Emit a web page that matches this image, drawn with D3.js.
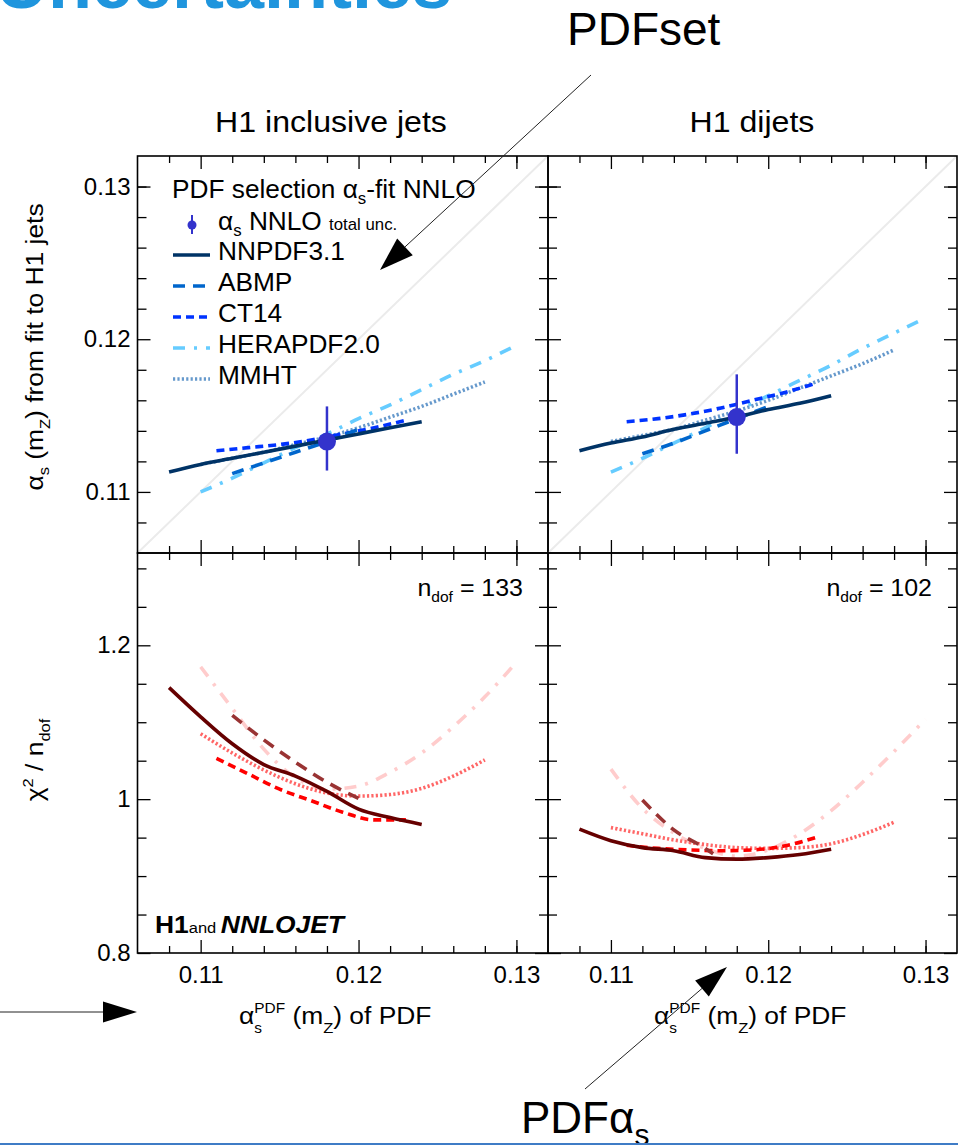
<!DOCTYPE html>
<html>
<head>
<meta charset="utf-8">
<title>alpha_s fits vs PDF alpha_s</title>
<script src="https://d3js.org/d3.v7.min.js"></script>
<style>
  body { margin: 0; background: #fff; }
  text { font-family: "Liberation Sans", Arial, Helvetica, sans-serif; fill: #000; }
  .tick text { font-size: 24px; }
  .tick line { stroke: #000; stroke-width: 1.3px; }
</style>
</head>
<body>
<svg id="chart" width="958" height="1147"></svg>
<script>
// ---- data ----
var pdfNames = ["NNPDF3.1", "ABMP", "CT14", "HERAPDF2.0", "MMHT"];

// alpha_s(mZ) of the PDF sets used
var alphaNNPDF = [0.108, 0.110, 0.112, 0.114, 0.116, 0.118, 0.120, 0.122, 0.124];
var alphaABMP  = [0.112, 0.114, 0.116, 0.118, 0.120];
var alphaABMPdijetChi = [0.112, 0.114, 0.116, 0.1165];
var alphaCT14  = [0.111, 0.113, 0.115, 0.117, 0.119, 0.121, 0.123];
var alphaHERA  = [0.110, 0.112, 0.114, 0.116, 0.118, 0.120, 0.122, 0.124, 0.126, 0.128, 0.130];
var alphaMMHT  = [0.110, 0.112, 0.114, 0.116, 0.118, 0.120, 0.122, 0.124, 0.126, 0.128];

// H1 inclusive jets: fitted alpha_s
var incFitNNPDF = [0.1113, 0.1118, 0.1122, 0.1126, 0.1130, 0.1134, 0.1138, 0.1142, 0.1146];
var incFitABMP  = [0.1112, 0.1119, 0.1126, 0.1133, 0.1141];
var incFitCT14  = [0.1127, 0.1129, 0.1131, 0.1134, 0.1138, 0.1142, 0.1147];
var incFitHERA  = [0.1100, 0.1109, 0.1119, 0.1129, 0.1138, 0.1148, 0.1157, 0.1167, 0.1177, 0.1186, 0.1196];
var incFitMMHT  = [0.1118, 0.1122, 0.1126, 0.1131, 0.1136, 0.1142, 0.1149, 0.1156, 0.1164, 0.1172];

// H1 inclusive jets: chi2/ndof
var incChiNNPDF = [1.145, 1.107, 1.072, 1.045, 1.030, 1.010, 0.987, 0.976, 0.967];
var incChiABMP  = [1.109, 1.077, 1.048, 1.022, 1.001];
var incChiCT14  = [1.053, 1.033, 1.013, 0.998, 0.983, 0.973, 0.973];
var incChiHERA  = [1.172, 1.118, 1.065, 1.028, 1.013, 1.017, 1.035, 1.060, 1.094, 1.133, 1.178];
var incChiMMHT  = [1.085, 1.060, 1.038, 1.020, 1.008, 1.004, 1.006, 1.014, 1.030, 1.051];

// H1 dijets: fitted alpha_s
var diFitNNPDF = [0.1127, 0.1132, 0.1136, 0.1141, 0.1145, 0.1149, 0.1154, 0.1158, 0.1163];
var diFitABMP  = [0.1125, 0.1132, 0.1140, 0.1148, 0.1156];
var diFitCT14  = [0.1146, 0.1148, 0.1151, 0.1155, 0.1160, 0.1165, 0.1171];
var diFitHERA  = [0.1113, 0.1122, 0.1132, 0.1142, 0.1153, 0.1163, 0.1173, 0.1183, 0.1194, 0.1204, 0.1214];
var diFitMMHT  = [0.1133, 0.1137, 0.1141, 0.1147, 0.1153, 0.1160, 0.1168, 0.1176, 0.1184, 0.1193];

// H1 dijets: chi2/ndof
var diChiNNPDF = [0.961, 0.946, 0.937, 0.933, 0.924, 0.922, 0.924, 0.928, 0.935];
var diChiABMP  = [0.999, 0.960, 0.936, 0.929];
var diChiCT14  = [0.940, 0.936, 0.934, 0.933, 0.934, 0.939, 0.950];
var diChiHERA  = [1.039, 0.988, 0.956, 0.936, 0.926, 0.934, 0.955, 0.985, 1.022, 1.062, 1.104];
var diChiMMHT  = [0.963, 0.955, 0.947, 0.941, 0.937, 0.936, 0.937, 0.942, 0.954, 0.970];

// NNLO alpha_s fit results (at PDF alpha_s = 0.118)
var fitPdfAlpha = 0.118;
var fitCentral = [0.1133, 0.1149];
var fitUp      = [0.1156, 0.1177];
var fitDown    = [0.1114, 0.1125];

var datasetTitles = ["H1 inclusive jets", "H1 dijets"];
var ndofValues = [133, 102];

// axis ticks
var xMajor = [0.11, 0.12, 0.13];
var xMinor = [0.108, 0.112, 0.114, 0.116, 0.118, 0.122, 0.124, 0.126, 0.128, 0.13];
var fitMajor = [0.11, 0.12, 0.13];
var fitMinor = [0.108, 0.112, 0.114, 0.116, 0.118, 0.122, 0.124, 0.126, 0.128, 0.13];
var chiMajor = [0.8, 1, 1.2];
var chiMinor = [0.85, 0.9, 0.95, 1.05, 1.1, 1.15, 1.25, 1.3];

// ---- styles ----
var pdfStyle = {
  "NNPDF3.1":   { up: "#003366", low: "#660000", dash: null },
  "ABMP":       { up: "#0066cc", low: "#993333", dash: "12,8" },
  "CT14":       { up: "#0033ff", low: "#ff0000", dash: "8,5" },
  "HERAPDF2.0": { up: "#66ccff", low: "#ffcccc", dash: "12,9,3,9" },
  "MMHT":       { up: "#6699cc", low: "#ff6666", dash: "2.2,2.2" }
};
var drawOrder = ["HERAPDF2.0", "MMHT", "CT14", "ABMP", "NNPDF3.1"];

// series table built from the arrays above
var series = {
  "NNPDF3.1":   { a: [alphaNNPDF, alphaNNPDF], fit: [incFitNNPDF, diFitNNPDF], chi: [incChiNNPDF, diChiNNPDF], aChi: [alphaNNPDF, alphaNNPDF] },
  "ABMP":       { a: [alphaABMP, alphaABMP], fit: [incFitABMP, diFitABMP], chi: [incChiABMP, diChiABMP], aChi: [alphaABMP, alphaABMPdijetChi] },
  "CT14":       { a: [alphaCT14, alphaCT14], fit: [incFitCT14, diFitCT14], chi: [incChiCT14, diChiCT14], aChi: [alphaCT14, alphaCT14] },
  "HERAPDF2.0": { a: [alphaHERA, alphaHERA], fit: [incFitHERA, diFitHERA], chi: [incChiHERA, diChiHERA], aChi: [alphaHERA, alphaHERA] },
  "MMHT":       { a: [alphaMMHT, alphaMMHT], fit: [incFitMMHT, diFitMMHT], chi: [incChiMMHT, diChiMMHT], aChi: [alphaMMHT, alphaMMHT] }
};

var svg = d3.select("#chart");

// ---- scales ----
var xScales = [
  d3.scaleLinear().domain([0.106, 0.132]).range([137.5, 548]),
  d3.scaleLinear().domain([0.106, 0.132]).range([548, 957])
];
var yFit = d3.scaleLinear().domain([0.106, 0.132]).range([553, 156]);
var yChi = d3.scaleLinear().domain([0.8, 1.32]).range([953, 553]);

function noDomain(g) { g.select(".domain").remove(); }

// text placed at (x,y), optionally rotated and slightly stretched
function label(x, y, size, sx, rot, anchor) {
  return svg.append("text")
    .attr("transform", "translate(" + x + "," + y + ")" + (rot ? " rotate(" + rot + ")" : "") + " scale(" + sx + ",1)")
    .attr("text-anchor", anchor || "start")
    .style("font-size", size + "px");
}

function drawAxes(x, y, yMaj, yMin, labelX, labelY, yFmt) {
  var x0 = x.range()[0], x1 = x.range()[1];
  var yb = y.range()[0], yt = y.range()[1];
  var g = svg.append("g");
  g.append("g").attr("transform", "translate(0," + yb + ")")
    .call(d3.axisBottom(x).tickValues(xMinor).tickSize(-7).tickFormat("")).call(noDomain);
  g.append("g").attr("transform", "translate(0," + yb + ")")
    .call(d3.axisBottom(x).tickValues(xMajor).tickSize(-13).tickPadding(13)
      .tickFormat(labelX ? d3.format(".2f") : "")).call(noDomain);
  g.append("g").attr("transform", "translate(0," + yt + ")")
    .call(d3.axisTop(x).tickValues(xMinor).tickSize(-7).tickFormat("")).call(noDomain);
  g.append("g").attr("transform", "translate(0," + yt + ")")
    .call(d3.axisTop(x).tickValues(xMajor).tickSize(-13).tickFormat("")).call(noDomain);
  g.append("g").attr("transform", "translate(" + x0 + ",0)")
    .call(d3.axisLeft(y).tickValues(yMin).tickSize(-9).tickFormat("")).call(noDomain);
  g.append("g").attr("transform", "translate(" + x0 + ",0)")
    .call(d3.axisLeft(y).tickValues(yMaj).tickSize(-13).tickPadding(7)
      .tickFormat(labelY ? yFmt : "")).call(noDomain);
  g.append("g").attr("transform", "translate(" + x1 + ",0)")
    .call(d3.axisRight(y).tickValues(yMin).tickSize(-9).tickFormat("")).call(noDomain);
  g.append("g").attr("transform", "translate(" + x1 + ",0)")
    .call(d3.axisRight(y).tickValues(yMaj).tickSize(-13).tickFormat("")).call(noDomain);
  g.selectAll(".tick text").style("font-size", "24px").attr("fill", "#000");
  g.append("rect").attr("x", x0).attr("y", yt).attr("width", x1 - x0).attr("height", yb - yt)
    .attr("fill", "none").attr("stroke", "#000").attr("stroke-width", 1.6);
}

var titleCenters = [331, 752];
var xTitleStarts = [239, 654];

for (var c = 0; c < 2; c++) {
  var x = xScales[c];

  // upper: fitted alpha_s
  var gU = svg.append("g");
  gU.append("line")
    .attr("x1", x(0.106)).attr("y1", yFit(0.106)).attr("x2", x(0.132)).attr("y2", yFit(0.132))
    .attr("stroke", "#ebebeb").attr("stroke-width", 2);
  drawOrder.forEach(function (name) {
    var s = series[name], st = pdfStyle[name];
    var line = d3.line().x(function (d) { return x(d[0]); }).y(function (d) { return yFit(d[1]); })
      .curve(d3.curveMonotoneX);
    gU.append("path").datum(d3.zip(s.a[c], s.fit[c]))
      .attr("d", line).attr("fill", "none").attr("stroke", st.up).attr("stroke-width", 3.6)
      .attr("stroke-dasharray", st.dash);
  });
  gU.append("line")
    .attr("x1", x(fitPdfAlpha)).attr("x2", x(fitPdfAlpha))
    .attr("y1", yFit(fitUp[c])).attr("y2", yFit(fitDown[c]))
    .attr("stroke", "#3333cc").attr("stroke-width", 2.5);
  gU.append("circle").attr("cx", x(fitPdfAlpha)).attr("cy", yFit(fitCentral[c])).attr("r", 9)
    .attr("fill", "#3333cc");

  // lower: chi2/ndof
  var gL = svg.append("g");
  drawOrder.forEach(function (name) {
    var s = series[name], st = pdfStyle[name];
    var line = d3.line().x(function (d) { return x(d[0]); }).y(function (d) { return yChi(d[1]); })
      .curve(d3.curveMonotoneX);
    gL.append("path").datum(d3.zip(s.aChi[c], s.chi[c]))
      .attr("d", line).attr("fill", "none").attr("stroke", st.low).attr("stroke-width", 3.6)
      .attr("stroke-dasharray", st.dash);
  });

  drawAxes(x, yFit, fitMajor, fitMinor, false, c === 0, d3.format(".2f"));
  drawAxes(x, yChi, chiMajor, chiMinor, true, c === 0, d3.format("~g"));

  // column title
  label(titleCenters[c], 132, 30, 1.07, 0, "middle").text(datasetTitles[c]);

  // n_dof label
  var nd = label(x.range()[1] - 25, 596, 24, 1.04, 0, "end");
  nd.append("tspan").text("n");
  nd.append("tspan").attr("dy", 6).style("font-size", "15px").text("dof");
  nd.append("tspan").attr("dy", -6).text(" = " + ndofValues[c]);

  // x axis title
  var xt = label(xTitleStarts[c], 1024, 24, 1.1, 0, "start");
  xt.append("tspan").text("\u03b1");
  xt.append("tspan").attr("dy", -11).style("font-size", "14px").text("PDF");
  xt.append("tspan").attr("dx", -28).attr("dy", 20).style("font-size", "14px").text("s");
  xt.append("tspan").attr("dx", 21).attr("dy", -9).text(" (m");
  xt.append("tspan").attr("dy", 9).style("font-size", "15px").text("Z");
  xt.append("tspan").attr("dy", -9).text(") of PDF");
}

// y axis titles
var yt1 = label(43, 347, 24, 1.1, -90, "middle");
yt1.append("tspan").text("\u03b1");
yt1.append("tspan").attr("dy", 6).style("font-size", "15px").text("s");
yt1.append("tspan").attr("dy", -6).text(" (m");
yt1.append("tspan").attr("dy", 7).style("font-size", "15px").text("Z");
yt1.append("tspan").attr("dy", -7).text(") from fit to H1 jets");

var yt2 = label(43, 760, 24, 1.1, -90, "middle");
yt2.append("tspan").text("\u03c7");
yt2.append("tspan").attr("dy", -10).style("font-size", "15px").text("2");
yt2.append("tspan").attr("dy", 10).text(" / n");
yt2.append("tspan").attr("dy", 7).style("font-size", "15px").text("dof");

// legend
var lt = label(172, 198, 25, 1.05, 0, "start");
lt.append("tspan").text("PDF selection \u03b1");
lt.append("tspan").attr("dy", 6).style("font-size", "16px").text("s");
lt.append("tspan").attr("dy", -6).text("-fit NNLO");

svg.append("line").attr("x1", 192).attr("x2", 192).attr("y1", 215).attr("y2", 234)
  .attr("stroke", "#3333cc").attr("stroke-width", 2);
svg.append("circle").attr("cx", 192).attr("cy", 225).attr("r", 4.5).attr("fill", "#3333cc");
var l1 = label(218, 230, 25, 1.05, 0, "start");
l1.append("tspan").text("\u03b1");
l1.append("tspan").attr("dy", 6).style("font-size", "16px").text("s");
l1.append("tspan").attr("dy", -6).text(" NNLO ");
l1.append("tspan").style("font-size", "16px").text("total unc.");

var legendBase = [260, 291, 322, 353, 384];
pdfNames.forEach(function (name, i) {
  var st = pdfStyle[name];
  svg.append("line").attr("x1", 173).attr("x2", 210)
    .attr("y1", legendBase[i] - 5).attr("y2", legendBase[i] - 5)
    .attr("stroke", st.up).attr("stroke-width", 3.4).attr("stroke-dasharray", st.dash);
  label(218, legendBase[i], 25, 1.05, 0, "start").text(name);
});

// H1 and NNLOJET label
var h1 = label(155, 933, 24, 1.1, 0, "start");
h1.append("tspan").style("font-weight", "bold").text("H1");
h1.append("tspan").style("font-size", "15px").text("and ");
h1.append("tspan").style("font-weight", "bold").style("font-style", "italic").text("NNLOJET");

// slide annotations
svg.append("text").attr("x", -4).attr("y", 8).style("font-size", "72px").style("font-weight", "bold")
  .style("fill", "#1f95dd").text("Uncertainties");
svg.append("text").attr("x", 567).attr("y", 45).style("font-size", "46px").text("PDFset");
var pa = svg.append("text").attr("x", 521).attr("y", 1133).style("font-size", "44px");
pa.append("tspan").text("PDF\u03b1");
pa.append("tspan").attr("dy", 12).style("font-size", "30px").text("s");

function arrow(x1, y1, x2, y2, len, wid) {
  var dx = x2 - x1, dy = y2 - y1, L = Math.sqrt(dx * dx + dy * dy);
  var ux = dx / L, uy = dy / L;
  var bx = x2 - ux * len, by = y2 - uy * len;
  svg.append("line").attr("x1", x1).attr("y1", y1).attr("x2", bx).attr("y2", by)
    .attr("stroke", "#222").attr("stroke-width", 1);
  svg.append("polygon").attr("fill", "#000").attr("points", [
    [x2, y2],
    [bx - uy * wid / 2, by + ux * wid / 2],
    [bx + uy * wid / 2, by - ux * wid / 2]
  ].map(function (p) { return p.join(","); }).join(" "));
}
arrow(591, 75, 380, 270, 34, 23);
arrow(0, 1012, 137, 1012, 34, 21);
arrow(585, 1089, 727, 967, 33, 21);

svg.append("line").attr("x1", 0).attr("x2", 958).attr("y1", 1144).attr("y2", 1144)
  .attr("stroke", "#3f7cc6").attr("stroke-width", 2);
</script>
</body>
</html>
